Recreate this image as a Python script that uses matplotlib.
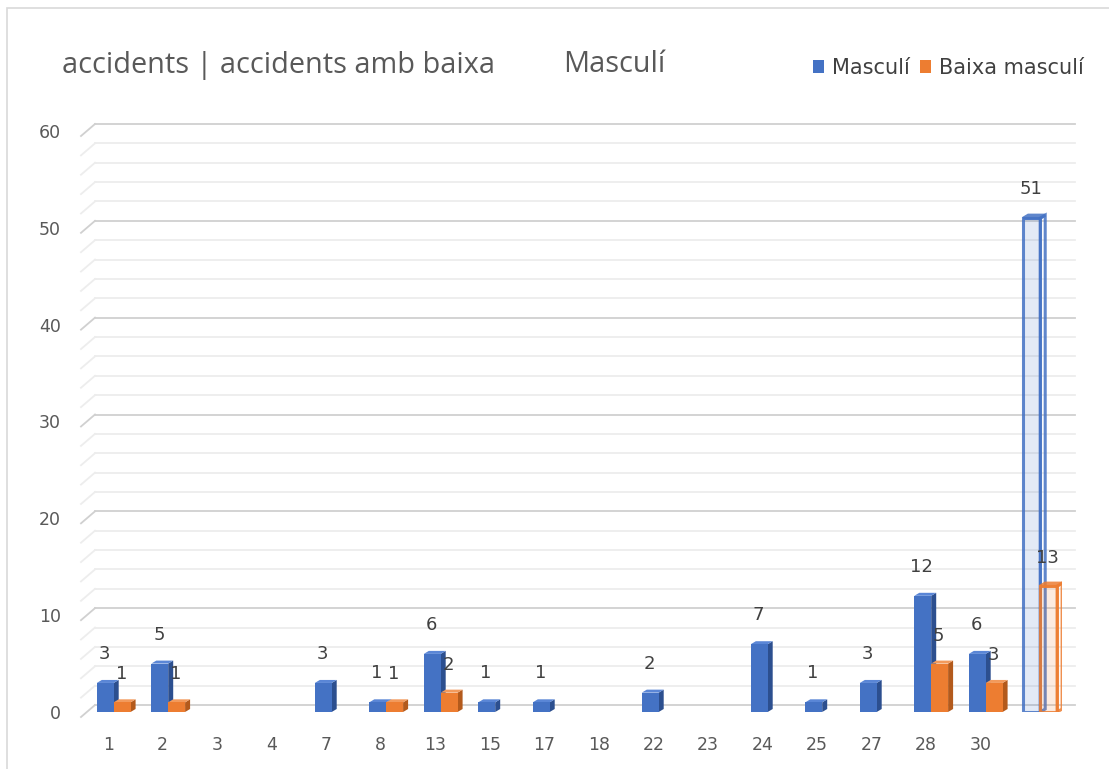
import matplotlib
matplotlib.use("Agg")
import matplotlib.pyplot as plt
from matplotlib.patches import Polygon, Rectangle

categories = ["1", "2", "3", "4", "7", "8", "13", "15", "17", "18", "22", "23",
              "24", "25", "27", "28", "30", ""]
masculi = [3, 5, 0, 0, 3, 1, 6, 1, 1, 0, 2, 0, 7, 1, 3, 12, 6, 51]
baixa = [1, 1, 0, 0, 0, 1, 2, 0, 0, 0, 0, 0, 0, 0, 0, 5, 3, 13]
yticks = [0, 10, 20, 30, 40, 50, 60]

W, H = 1109, 769
fig = plt.figure(figsize=(W / 100, H / 100), dpi=100)
fig.patch.set_facecolor("white")
ax = fig.add_axes([81 / W, 57 / H, (1062 - 81) / W, (712 - 131) / H])
ax.set_xlim(-0.5, 17.5)
ax.set_ylim(0, 60)
for s in ax.spines.values():
    s.set_visible(False)
ax.patch.set_alpha(0)

pxx = (1062 - 81) / 18.0
pxy = (712 - 131) / 60.0


def px2x(px):
    return -0.5 + (px - 81) / pxx


# gridlines (back wall with slanted left part)
for v in range(0, 61, 2):
    major = v % 10 == 0
    col = "#D0D0D0" if major else "#EDEDED"
    yb = v + 7 / pxy
    yf = v - 5 / pxy
    ax.plot([px2x(95), px2x(1075)], [yb, yb], color=col, lw=1.3, zorder=0, clip_on=False)
    ax.plot([px2x(81), px2x(95)], [yf, yb], color=col, lw=1.3, zorder=0, clip_on=False)

dx = 5 / pxx
dy = 3 / pxy


def bar3d(x0, w, h, front, side, top, hollow=False, z=2):
    if h <= 0:
        return
    if hollow:
        kw = dict(edgecolor=front, lw=2.2, joinstyle="miter", alpha=0.85)
        ax.add_patch(Polygon([(x0, 0), (x0 + w, 0), (x0 + w, h), (x0, h)], closed=True,
                             facecolor=front, alpha=0.15, lw=0, zorder=z))
        ax.add_patch(Polygon([(x0, 0), (x0 + w, 0), (x0 + w, h), (x0, h)], closed=True,
                             facecolor="none", zorder=z + 0.2, **kw))
        ax.add_patch(Polygon([(x0 + w, 0), (x0 + w + dx, dy), (x0 + w + dx, h + dy), (x0 + w, h)],
                             closed=True, facecolor="none", zorder=z + 0.1, **kw))
        ax.add_patch(Polygon([(x0, h), (x0 + w, h), (x0 + w + dx, h + dy), (x0 + dx, h + dy)],
                             closed=True, facecolor="none", zorder=z + 0.1, **kw))
        return
    ax.add_patch(Polygon([(x0 + w, 0), (x0 + w + dx, dy), (x0 + w + dx, h + dy), (x0 + w, h)],
                         closed=True, facecolor=side, edgecolor="none", zorder=z))
    ax.add_patch(Polygon([(x0, h), (x0 + w, h), (x0 + w + dx, h + dy), (x0 + dx, h + dy)],
                         closed=True, facecolor=top, edgecolor="none", zorder=z))
    ax.bar([x0], [h], width=w, align="edge", color=front, edgecolor="none", zorder=z + 0.1)


blue, blue_side, blue_top = "#4472C4", "#2C4F8F", "#5A86D6"
orange, orange_side, orange_top = "#ED7D31", "#B35A1C", "#F29A5C"
bw = 0.31
n = len(categories)
lab_kw = dict(ha="center", va="center", fontsize=13, color="#404040", zorder=10)
for i in range(n):
    hollow = i == n - 1
    xb = i - 0.21
    xo = xb + bw
    bar3d(xb, bw, masculi[i], blue, blue_side, blue_top, hollow=hollow, z=2)
    bar3d(xo, bw, baixa[i], orange, orange_side, orange_top, hollow=hollow, z=4)
for i in range(n):
    xb = i - 0.21
    xo = xb + bw
    if masculi[i] > 0:
        ax.text(xb + bw * 0.45, masculi[i] + 29 / pxy, str(masculi[i]), **lab_kw)
    if baixa[i] > 0:
        ax.text(xo + bw * 0.45, baixa[i] + 28 / pxy, str(baixa[i]), **lab_kw)

ax.set_xticks(range(n))
ax.set_xticklabels(categories)
ax.set_yticks(yticks)
ax.tick_params(axis="both", length=0, labelsize=12.5, labelcolor="#595959")
ax.tick_params(axis="x", pad=17.5)
ax.tick_params(axis="y", pad=14.5)

fig.text(62 / W, 1 - 65 / H, "accidents | accidents amb baixa", fontsize=20.8,
         color="#595959", va="center", ha="left", family="Open Sans")
fig.text(563 / W, 1 - 65 / H, "Masculí", fontsize=20.8,
         color="#595959", va="center", ha="left", family="Open Sans")

handles = [Rectangle((0, 0), 1, 1, facecolor=blue), Rectangle((0, 0), 1, 1, facecolor=orange)]
leg = fig.legend(handles, ["Masculí", "Baixa masculí"], loc="center right",
                 bbox_to_anchor=(1094 / W, 1 - 68 / H), ncol=2, frameon=False,
                 fontsize=15, handlelength=0.55, handleheight=0.55, handletextpad=0.35,
                 columnspacing=0.5, borderpad=0, labelcolor="#404040")

fig.patches.append(Rectangle((7 / W, -0.02), 1.2, 1 - 8 / H + 0.02, transform=fig.transFigure,
                             facecolor="none", edgecolor="#D9D9D9", lw=1.2))

fig.savefig("out.png", dpi=100)
